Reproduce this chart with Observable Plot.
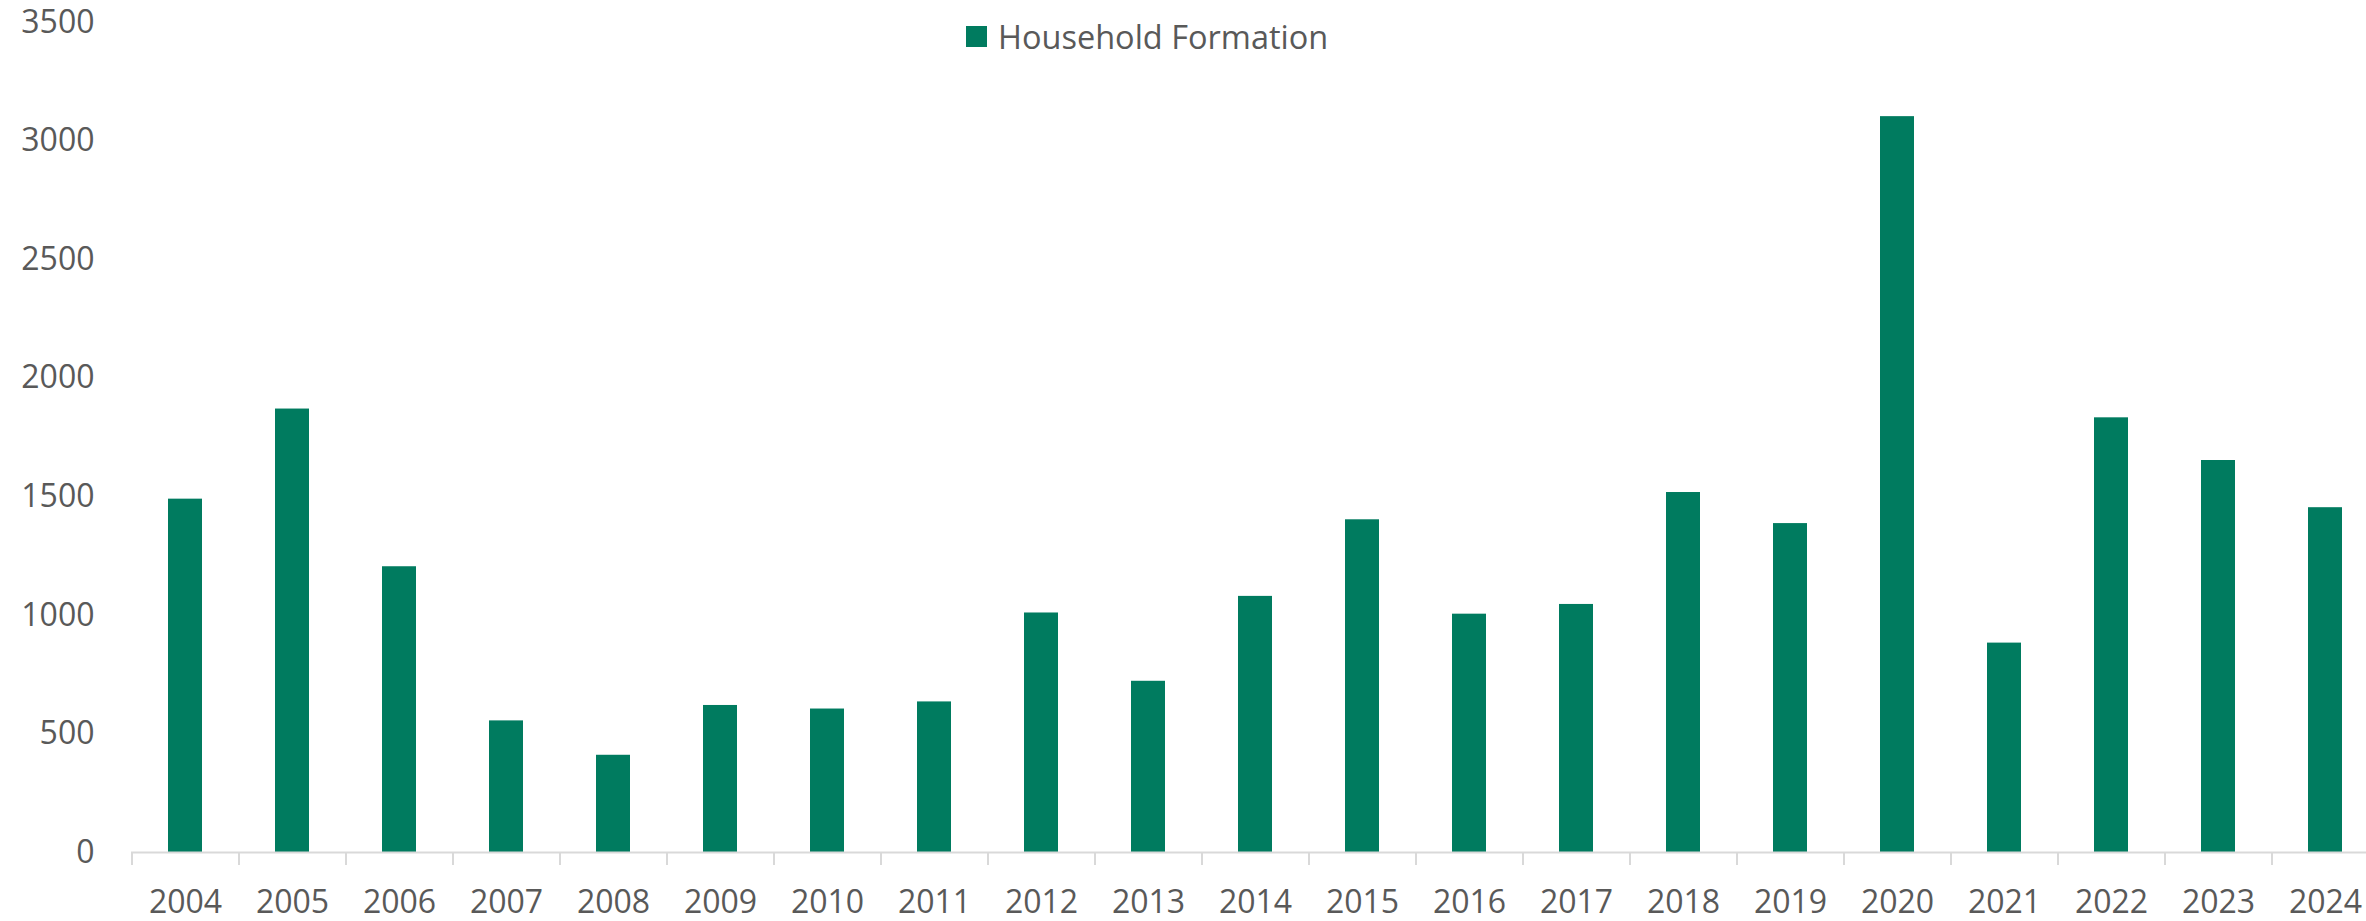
<!DOCTYPE html>
<html>
<head>
<meta charset="utf-8">
<script src="https://cdn.jsdelivr.net/npm/d3@7"></script>
<script src="https://cdn.jsdelivr.net/npm/@observablehq/plot@0.6"></script>
<style>
  html, body { margin: 0; padding: 0; background: white; overflow: hidden; }
  #wrap { position: relative; width: 2366px; height: 921px; overflow: hidden; }
  #chart svg { display: block; }
  #legend { position: absolute; left: 966px; top: 14px; display: flex; align-items: center;
            font-family: "Open Sans", sans-serif; font-size: 32.5px; color: #595959; white-space: nowrap; }
  #legend .sw { width: 21px; height: 21px; background: #007B5F; margin-right: 11px; }
</style>
</head>
<body>
<div id="wrap">
  <div id="chart"></div>
  <div id="legend"><span class="sw"></span><span>Household Formation</span></div>
</div>
<script>
const years = ["2004","2005","2006","2007","2008","2009","2010","2011","2012","2013","2014",
               "2015","2016","2017","2018","2019","2020","2021","2022","2023","2024"];
const householdFormation = [1490, 1870, 1205, 555, 410, 620, 605, 635, 1010, 722, 1080,
                            1403, 1005, 1046, 1518, 1387, 3103, 883, 1833, 1653, 1454];
const yTicks = [0, 500, 1000, 1500, 2000, 2500, 3000, 3500];
const seriesName = "Household Formation";

const data = years.map((year, i) => ({year, value: householdFormation[i]}));

const W = 2366, H = 921, ML = 131, step = 107;
const color = "#007B5F";
const textColor = "#595959";

const chart = Plot.plot({
  width: W,
  height: H,
  marginTop: 22,
  marginBottom: 69,
  marginLeft: ML,
  marginRight: 0,
  style: {fontFamily: "Open Sans, sans-serif", fontSize: "32px", color: textColor, background: "white", overflow: "hidden"},
  x: {domain: years, range: [ML, ML + years.length * step], paddingInner: 0.686, paddingOuter: 0.343, label: null},
  y: {domain: [0, 3500], ticks: yTicks, label: null},
  marks: [
    Plot.barY(data, {x: "year", y: "value", fill: color}),
    Plot.ruleY([0], {stroke: "#d9d9d9", strokeWidth: 2}),
    Plot.axisY({ticks: yTicks, tickFormat: d => String(d), tickSize: 0, tickPadding: 37, fill: textColor, fontSize: 32, label: null}),
    Plot.axisX({tickSize: 0, tickPadding: 38, fill: textColor, fontSize: 32, label: null}),
    Plot.axisX({tickSize: 13, dx: -step / 2, tickFormat: () => "", stroke: "#d9d9d9", strokeWidth: 2, label: null})
  ]
});
document.getElementById("chart").appendChild(chart);
document.getElementById("legend").lastElementChild.textContent = seriesName;
</script>
</body>
</html>
